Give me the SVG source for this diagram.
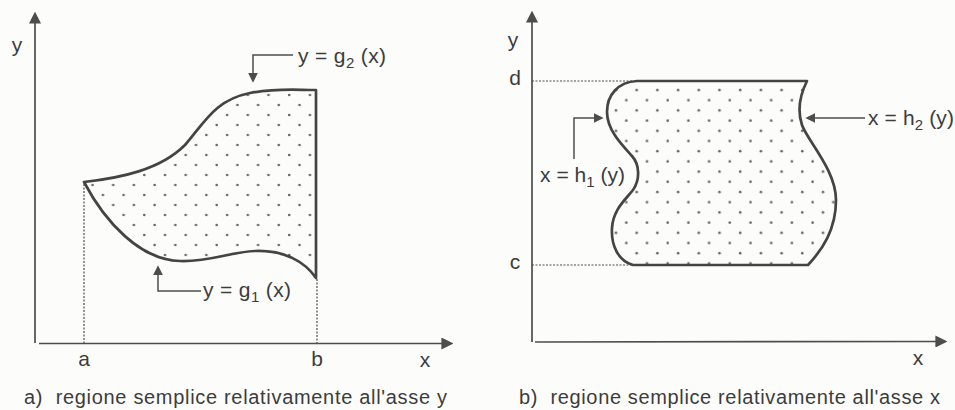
<svg xmlns="http://www.w3.org/2000/svg" width="955" height="410" viewBox="0 0 955 410">
<style>
  .ax { stroke:#4d4d4d; stroke-width:1.7; fill:none; }
  .dash { stroke:#4d4d4d; stroke-width:1.2; stroke-dasharray:2 1.5; fill:none; }
  .region { stroke:#444; stroke-width:2.7; stroke-linejoin:round; }
  .lead { stroke:#4d4d4d; stroke-width:1.5; fill:none; }
  text { font-family:"Liberation Sans", Arial, sans-serif; fill:#3c3c3c; font-size:20px; }
  .lbl { font-size:21px; }
  .sub { font-size:15px; }
</style>
<defs>
  <marker id="axArrow" markerUnits="userSpaceOnUse" markerWidth="12" markerHeight="12" viewBox="0 0 10 10" refX="3" refY="5" orient="auto">
    <path d="M0,0 L10,5 L0,10 z" fill="#4d4d4d"/>
  </marker>
  <marker id="leadArrow" markerUnits="userSpaceOnUse" markerWidth="10" markerHeight="10" viewBox="0 0 9 9" refX="3" refY="4.5" orient="auto">
    <path d="M0,0 L9,4.5 L0,9 z" fill="#4d4d4d"/>
  </marker>
  <pattern id="dotsA" patternUnits="userSpaceOnUse" x="150" y="170" width="20.7" height="20">
    <circle cx="15" cy="5" r="1.3" fill="#666"/>
    <circle cx="4.6" cy="15" r="1.3" fill="#666"/>
  </pattern>
  <pattern id="dotsB" patternUnits="userSpaceOnUse" x="621.7" y="85" width="20.7" height="20.4">
    <circle cx="15" cy="5" r="1.3" fill="#666"/>
    <circle cx="4.6" cy="15.2" r="1.3" fill="#666"/>
  </pattern>
</defs>
<rect x="0" y="0" width="955" height="410" fill="#fcfcfa"/>

<!-- Panel a -->
<g id="axes-a">
  <line class="ax" x1="35" y1="343" x2="35" y2="20" marker-end="url(#axArrow)"/>
  <line class="ax" x1="39" y1="343.5" x2="445" y2="343.5" marker-end="url(#axArrow)"/>
  <text class="lbl" x="17" y="52" text-anchor="middle">y</text>
  <text class="lbl" x="425" y="367" text-anchor="middle">x</text>
  <text class="lbl" x="84" y="366" text-anchor="middle">a</text>
  <text class="lbl" x="317" y="366" text-anchor="middle">b</text>
</g>
<g id="guides-a">
  <line class="dash" x1="84" y1="184" x2="84" y2="343"/>
  <line class="dash" x1="317" y1="279" x2="317" y2="343"/>
</g>
<g id="region-a">
  <path class="region" fill="url(#dotsA)" d="M84,182 C120,178 160,170 185,145 C205,122 215,100 250,93 C275,88 295,90 316,90 L316,278 C305,262 285,250 255,251 C230,252 210,262 180,261 C140,260 105,222 84,182 Z"/>
</g>
<g id="label-g2">
  <text class="lbl" x="298" y="63" textLength="88" lengthAdjust="spacing">y = g<tspan class="sub" dy="5">2</tspan><tspan dy="-5"> (x)</tspan></text>
</g>
<g id="label-g1">
  <text class="lbl" x="203" y="297" textLength="88" lengthAdjust="spacing">y = g<tspan class="sub" dy="5">1</tspan><tspan dy="-5"> (x)</tspan></text>
</g>
<g id="caption-a">
  <text x="24" y="404" textLength="423" lengthAdjust="spacing" xml:space="preserve">a)  regione semplice relativamente all'asse y</text>
</g>

<!-- Panel b -->
<g id="axes-b">
  <line class="ax" x1="532" y1="342" x2="532" y2="19" marker-end="url(#axArrow)"/>
  <line class="ax" x1="535" y1="342" x2="939" y2="341.5" marker-end="url(#axArrow)"/>
  <text class="lbl" x="513" y="47" text-anchor="middle">y</text>
  <text class="lbl" x="918" y="365" text-anchor="middle">x</text>
  <text class="lbl" x="515" y="85" text-anchor="middle">d</text>
  <text class="lbl" x="515" y="269" text-anchor="middle">c</text>
</g>
<g id="guides-b">
  <line class="dash" x1="532" y1="81" x2="632" y2="81"/>
  <line class="dash" x1="532" y1="265" x2="632" y2="265"/>
</g>
<g id="region-b">
  <path class="region" fill="url(#dotsB)" d="M637,81 L807,81 C800,95 797,110 802,125 C807,140 836,170 836,200 C836,230 822,250 808,265 L633,265 C618,261 611,245 612,228 C613,210 625,200 633,190 C640,180 640,165 632,156 C622,145 607,130 607,112 C607,95 618,82 637,81 Z"/>
</g>
<g id="label-h1">
  <text class="lbl" x="540" y="182" textLength="85" lengthAdjust="spacing">x = h<tspan class="sub" dy="5">1</tspan><tspan dy="-5"> (y)</tspan></text>
</g>
<g id="label-h2">
  <text class="lbl" x="868" y="125" textLength="86" lengthAdjust="spacing">x = h<tspan class="sub" dy="5">2</tspan><tspan dy="-5"> (y)</tspan></text>
</g>
<g id="caption-b">
  <text x="519" y="404" textLength="421" lengthAdjust="spacing" xml:space="preserve">b)  regione semplice relativamente all'asse x</text>
</g>

<!-- Connectors (leader arrows) -->
<g id="connectors">
  <polyline class="lead" points="293,55 253,55 253,76" marker-end="url(#leadArrow)"/>
  <polyline class="lead" points="201,291 158,291 158,272" marker-end="url(#leadArrow)"/>
  <polyline class="lead" points="574,159 574,118 597,118" marker-end="url(#leadArrow)"/>
  <polyline class="lead" points="865,118 812,118" marker-end="url(#leadArrow)"/>
</g>
</svg>
